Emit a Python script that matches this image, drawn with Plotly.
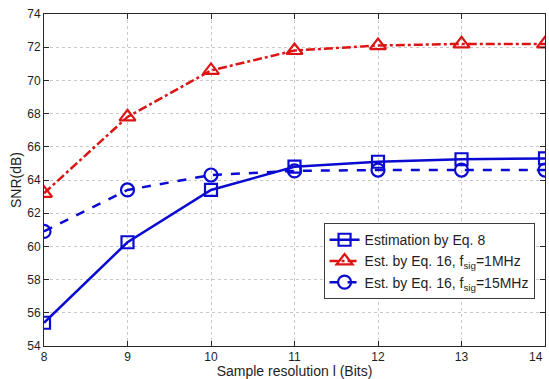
import plotly.graph_objects as go

bits = [8, 9, 10, 11, 12, 13, 14]
bit_labels = ["8", "9", "10", "11", "12", "13", "14"]
snr_eq8 = [55.4, 60.25, 63.4, 64.8, 65.1, 65.25, 65.3]
snr_eq16_1mhz = [63.2, 67.8, 70.6, 71.8, 72.1, 72.2, 72.2]
snr_eq16_15mhz = [60.9, 63.4, 64.3, 64.55, 64.6, 64.6, 64.6]

blue = "rgb(10,10,210)"
red = "rgb(220,20,20)"

fig = go.Figure()
fig.add_trace(go.Scatter(
    x=bits, y=snr_eq8, mode="lines+markers", name="Estimation by Eq. 8",
    line=dict(color=blue, width=2.5),
    marker=dict(symbol="square-open", size=12, color=blue, line=dict(width=2.2, color=blue))))
fig.add_trace(go.Scatter(
    x=bits, y=snr_eq16_1mhz, mode="lines+markers", name="Est. by Eq. 16, f<sub>sig</sub>=1MHz",
    line=dict(color=red, width=2.5, dash="dashdot"),
    marker=dict(symbol="triangle-up-open", size=14, color=red, line=dict(width=2.2, color=red))))
fig.add_trace(go.Scatter(
    x=bits, y=snr_eq16_15mhz, mode="lines+markers", name="Est. by Eq. 16, f<sub>sig</sub>=15MHz",
    line=dict(color=blue, width=2.5, dash="dash"),
    marker=dict(symbol="circle-open", size=13, color=blue, line=dict(width=2.2, color=blue))))

tickfont = dict(size=12, color="rgb(30,30,30)", family="Liberation Sans, Arial")
axis_common = dict(
    showgrid=True, gridcolor="rgb(200,200,200)", griddash="dot", gridwidth=1,
    showline=True, linecolor="rgb(40,40,40)", linewidth=1, mirror="ticks",
    ticks="inside", ticklen=5, tickcolor="rgb(40,40,40)",
    zeroline=False, automargin=False, tickfont=tickfont,
)

# last x tick label drawn right-aligned at its tick so it stays inside the page
xtick_text = bit_labels[:-1] + [""]
fig.add_annotation(x=bits[-1], y=0, xref="x", yref="paper", text=bit_labels[-1],
                   showarrow=False, xanchor="right", yanchor="top", xshift=0, yshift=-2,
                   font=tickfont)

fig.update_layout(
    width=549, height=379,
    margin=dict(l=44, r=4, t=14, b=33),
    paper_bgcolor="white", plot_bgcolor="white",
    font=dict(family="Liberation Sans, Arial", size=12, color="rgb(30,30,30)"),
    showlegend=True,
    legend=dict(x=0.558, y=0.37, xanchor="left", yanchor="top",
                bgcolor="white", bordercolor="rgb(60,60,60)", borderwidth=1,
                font=dict(size=14), tracegroupgap=0, itemwidth=30),
    xaxis=dict(range=[8, 14], tickvals=bits, ticktext=xtick_text,
               title=dict(text="Sample resolution l (Bits)", standoff=0, font=dict(size=14)),
               **axis_common),
    yaxis=dict(range=[54, 74], tickvals=list(range(54, 75, 2)),
               title=dict(text="SNR(dB)", standoff=2, font=dict(size=14)),
               **axis_common),
)

fig.write_html("out.html")
